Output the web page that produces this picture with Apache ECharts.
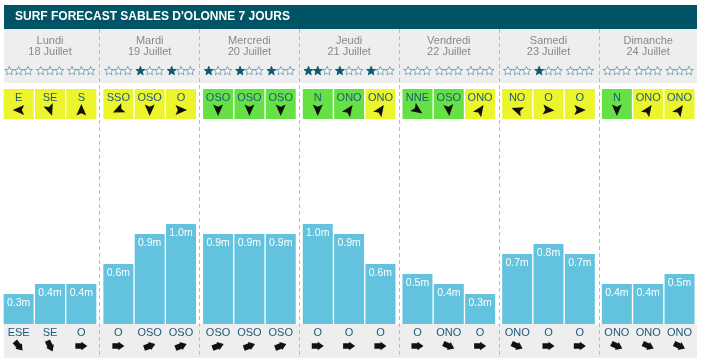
<!DOCTYPE html>
<html><head><meta charset="utf-8">
<script src="https://cdn.jsdelivr.net/npm/echarts@6/dist/echarts.min.js"></script>
<style>html,body{margin:0;padding:0;background:#fff}#c{width:703px;height:364px}</style>
</head><body><div id="c"></div>
<script>
const title = "SURF FORECAST SABLES D'OLONNE 7 JOURS";
const days = ['Lundi','Mardi','Mercredi','Jeudi','Vendredi','Samedi','Dimanche'];
const dates = ['18 Juillet','19 Juillet','20 Juillet','21 Juillet','22 Juillet','23 Juillet','24 Juillet'];
const waveHeights = [0.3,0.4,0.4, 0.6,0.9,1.0, 0.9,0.9,0.9, 1.0,0.9,0.6, 0.5,0.4,0.3, 0.7,0.8,0.7, 0.4,0.4,0.5];
const starRatings = [0,0,0, 0,1,1, 1,1,1, 2,1,1, 0,0,0, 0,1,0, 0,0,0];
const windDirs = ['E','SE','S', 'SSO','OSO','O', 'OSO','OSO','OSO', 'N','ONO','ONO', 'NNE','OSO','ONO', 'NO','O','O', 'N','ONO','ONO'];
const windArrowDeg = [270,160,0, 245,180,90, 180,180,180, 180,35,35, 125,175,35, 290,95,90, 180,35,35];
const windOffshore = [0,0,0, 0,0,0, 1,1,1, 1,1,0, 1,1,0, 0,0,0, 1,0,0];
const swellDirs = ['ESE','SE','O', 'O','OSO','OSO', 'OSO','OSO','OSO', 'O','O','O', 'O','ONO','O', 'ONO','O','O', 'ONO','ONO','ONO'];
const swellArrowDeg = [140,155,90, 90,70,70, 70,70,70, 90,90,90, 90,115,90, 115,90,90, 115,115,115];

const FONT = '"Liberation Sans", Arial, sans-serif';
const C = {
  head:'#005466', band:'#eeeeee', bar:'#63c3de', yellow:'#ecf52c', green:'#66e145',
  boxText:'#1b5a7a', dayText:'#888888', starFill:'#0b5870', starStroke:'#6f9cb0', arrow:'#111111', divider:'#bbbbbb'
};

function rot(pts, deg, cx, cy){
  const a = deg*Math.PI/180, c = Math.cos(a), s = Math.sin(a);
  return pts.map(([x,y]) => [cx + x*c - y*s, cy + x*s + y*c]);
}
function star(cx, cy){
  const pts = [];
  for (let k=0;k<10;k++){
    const r = k%2===0 ? 4.7 : 2.0;
    const a = -Math.PI/2 + k*Math.PI/5;
    pts.push([cx + r*Math.cos(a), cy + r*Math.sin(a)]);
  }
  return pts;
}
const windArrow = [[0,-6],[5,5.5],[0,3.2],[-5,5.5]];
// fat arrow pointing up
const swellArrow = [[-2.8,6],[-2.8,0],[-4.3,0],[0,-6],[4.3,0],[2.8,0],[2.8,6]];

const grids = [], xAxes = [], yAxes = [], series = [];
for (let d=0; d<7; d++){
  grids.push({left: 3 + 99.7*d, top:124, width:94, height:200});
  xAxes.push({type:'category', gridIndex:d, data:[0,1,2], show:false});
  yAxes.push({type:'value', gridIndex:d, min:0, max:2, show:false});
  series.push({
    type:'bar', xAxisIndex:d, yAxisIndex:d, barWidth:30,
    data: waveHeights.slice(d*3, d*3+3),
    itemStyle:{color:C.bar},
    label:{show:true, position:'insideTop', distance:3, color:'#fff', fontSize:10.5, lineHeight:12,
      fontFamily:FONT, formatter: p => p.value.toFixed(1)+'m'}
  });
  series.push({
    type:'custom', xAxisIndex:d, yAxisIndex:d, clip:false,
    data:[[0],[1],[2]], encode:{x:0},
    renderItem:(params, api) => {
      const i = api.value(0), g = d*3 + i;
      const x = api.coord([i, 0])[0];
      const ch = [];
      if (i === 1){
        ch.push({type:'text', x, y:40.5, style:{text:days[d], align:'center', verticalAlign:'middle', font:'11px '+FONT, fill:C.dayText}});
        ch.push({type:'text', x, y:52, style:{text:dates[d], align:'center', verticalAlign:'middle', font:'11px '+FONT, fill:C.dayText}});
      }
      for (let k=0;k<3;k++){
        const on = k < starRatings[g];
        ch.push({type:'polygon', shape:{points:star(x + (k-1)*9.3, 71)},
          style:{fill: on ? C.starFill : '#ffffff', stroke: on ? C.starFill : C.starStroke, lineWidth:0.9}});
      }
      ch.push({type:'rect', shape:{x:x-15, y:89, width:30, height:30},
        style:{fill: windOffshore[g] ? C.green : C.yellow}});
      ch.push({type:'text', x, y:97.5, style:{text:windDirs[g], align:'center', verticalAlign:'middle', font:'11px '+FONT, fill:C.boxText}});
      ch.push({type:'polygon', shape:{points:rot(windArrow, windArrowDeg[g], x, 110)}, style:{fill:C.arrow}});
      ch.push({type:'text', x, y:332.5, style:{text:swellDirs[g], align:'center', verticalAlign:'middle', font:'11px '+FONT, fill:C.boxText}});
      ch.push({type:'polygon', shape:{points:rot(swellArrow, swellArrowDeg[g], x, 346)}, style:{fill:C.arrow}});
      return {type:'group', children:ch};
    }
  });
}

const graphics = [
  {type:'rect', shape:{x:4, y:5, width:693, height:24}, style:{fill:C.head}},
  {type:'text', x:15, y:17, style:{text:title, font:'bold 12px '+FONT, fill:'#ffffff', verticalAlign:'middle'}},
  {type:'rect', shape:{x:4, y:29, width:693, height:54}, style:{fill:C.band}},
  {type:'rect', shape:{x:4, y:324, width:693, height:34}, style:{fill:C.band}}
];
for (let k=0;k<6;k++){
  graphics.push({type:'line', shape:{x1:99.5+100*k, y1:29, x2:99.5+100*k, y2:358},
    style:{stroke:C.divider, lineWidth:1, lineDash:[4,3]}});
}

const chart = echarts.init(document.getElementById('c'));
chart.setOption({
  animation:false,
  graphic:{elements:graphics},
  grid:grids, xAxis:xAxes, yAxis:yAxes, series
});
</script></body></html>
